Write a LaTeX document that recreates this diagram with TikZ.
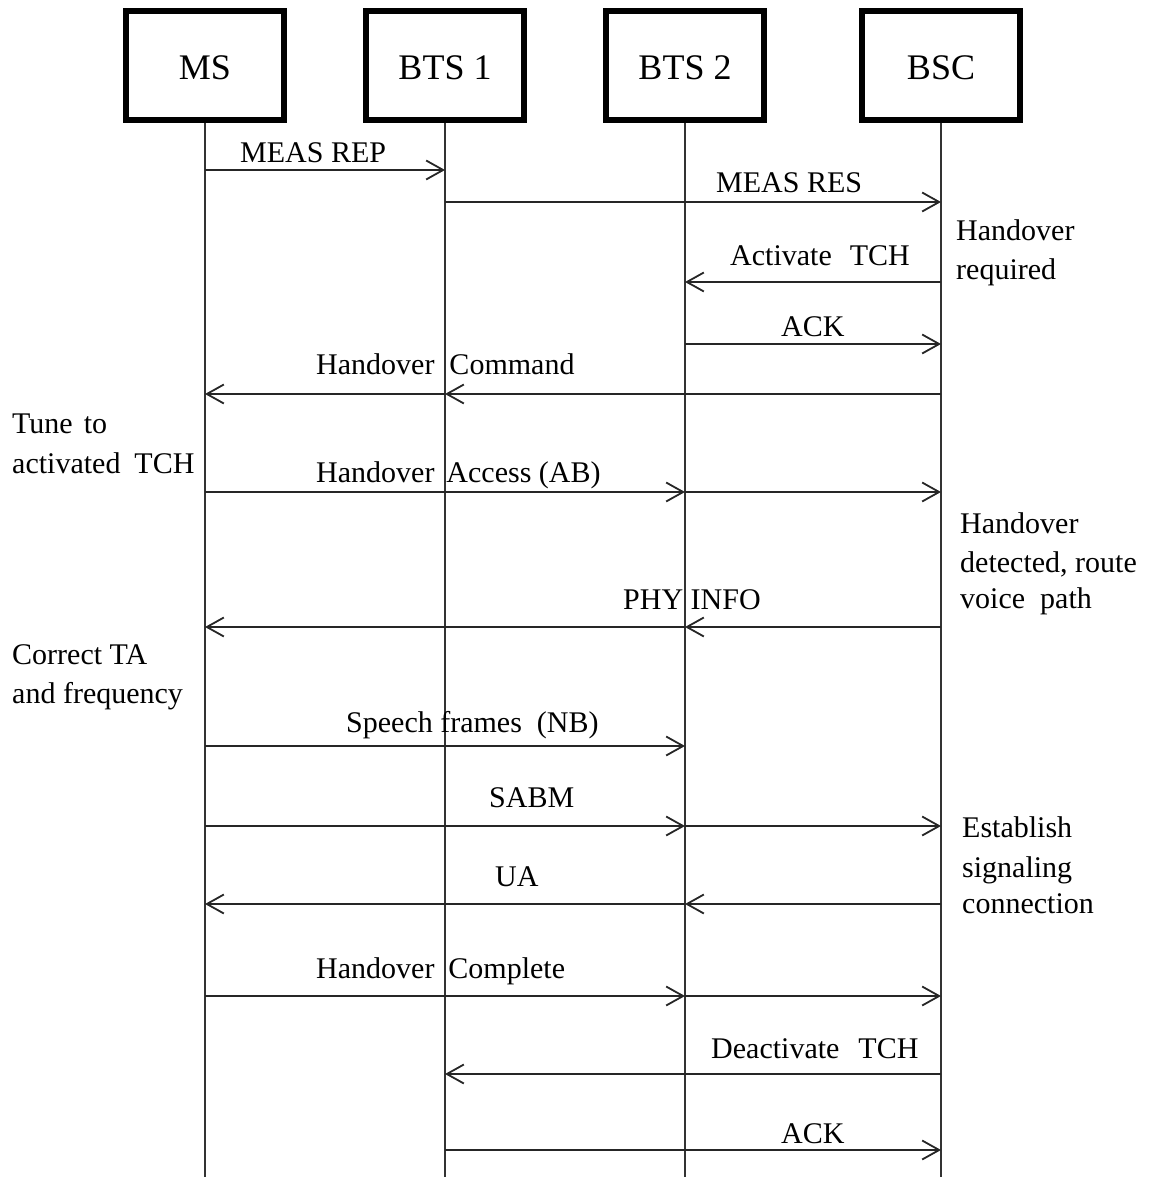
\documentclass[tikz,border=0pt]{standalone}
\usepackage{fontspec}
\setmainfont{Liberation Serif}
\usetikzlibrary{arrows.meta}
% explicit inter-word gap, in pt
\newcommand\wgap[1]{\hspace*{#1pt}}
\begin{document}
\begin{tikzpicture}[x=1pt,y=-1pt,
  entity/.style={draw=black, line width=5.5pt, minimum width=158pt,
    minimum height=109pt, inner sep=0pt, text height=29pt, text depth=0pt,
    font=\fontsize{36}{43}\selectfont},
  lifeline/.style={draw=black!80, line width=1.8pt},
  msg/.style={draw=black!85, line width=1.8pt,
    -{Straight Barb[length=17pt,width=19pt]}},
  lbl/.style={anchor=base west, inner sep=0pt, font=\fontsize{30}{36}\selectfont},
  note/.style={lbl}]

\useasboundingbox (0,0) rectangle (1153,1177);

% entities
\node[entity] (ms)   at (205,65.5) {MS};
\node[entity] (bts1) at (445,65.5) {BTS 1};
\node[entity] (bts2) at (685,65.5) {BTS 2};
\node[entity] (bsc)  at (941,65.5) {BSC};

% lifelines
\coordinate (bottom) at (0,1177);
\foreach \e in {ms,bts1,bts2,bsc}
  \draw[lifeline] (\e.south) -- (\e.south |- bottom);

% message rows
\coordinate (r1)  at (0,170);
\coordinate (r2)  at (0,202);
\coordinate (r3)  at (0,282);
\coordinate (r4)  at (0,344);
\coordinate (r5)  at (0,394);
\coordinate (r6)  at (0,492);
\coordinate (r7)  at (0,627);
\coordinate (r8)  at (0,746);
\coordinate (r9)  at (0,826);
\coordinate (r10) at (0,904);
\coordinate (r11) at (0,996);
\coordinate (r12) at (0,1074);
\coordinate (r13) at (0,1150);

% messages
\draw[msg] (ms |- r1) -- (bts1 |- r1);
\draw[msg] (bts1 |- r2) -- (bsc |- r2);
\draw[msg] (bsc |- r3) -- (bts2 |- r3);
\draw[msg] (bts2 |- r4) -- (bsc |- r4);
\draw[msg] (bsc |- r5) -- (bts1 |- r5);
\draw[msg] (bts1 |- r5) -- (ms |- r5);
\draw[msg] (ms |- r6) -- (bts2 |- r6);
\draw[msg] (bts2 |- r6) -- (bsc |- r6);
\draw[msg] (bsc |- r7) -- (bts2 |- r7);
\draw[msg] (bts2 |- r7) -- (ms |- r7);
\draw[msg] (ms |- r8) -- (bts2 |- r8);
\draw[msg] (ms |- r9) -- (bts2 |- r9);
\draw[msg] (bts2 |- r9) -- (bsc |- r9);
\draw[msg] (bsc |- r10) -- (bts2 |- r10);
\draw[msg] (bts2 |- r10) -- (ms |- r10);
\draw[msg] (ms |- r11) -- (bts2 |- r11);
\draw[msg] (bts2 |- r11) -- (bsc |- r11);
\draw[msg] (bsc |- r12) -- (bts1 |- r12);
\draw[msg] (bts1 |- r13) -- (bsc |- r13);

% message labels
\node[lbl] (l1)  at (240,163)  {MEAS REP};
\node[lbl] (l2)  at (716,193)  {MEAS RES};
\node[lbl] (l3)  at (730,265)  {Activate\wgap{18}TCH};
\node[lbl] (l4)  at (781,336)  {ACK};
\node[lbl] (l5)  at (316,374)  {Handover\wgap{15}Command};
\node[lbl] (l6)  at (316,482)  {Handover\wgap{12}Access (AB)};
\node[lbl] (l7)  at (623,609)  {PHY INFO};
\node[lbl] (l8)  at (346,732)  {Speech frames\wgap{15}(NB)};
\node[lbl] (l9)  at (489,807)  {SABM};
\node[lbl] (l10) at (495,886)  {UA};
\node[lbl] (l11) at (316,978)  {Handover\wgap{14}Complete};
\node[lbl] (l12) at (711,1058) {Deactivate\wgap{19}TCH};
\node[lbl] (l13) at (781,1143) {ACK};

% side notes
\node[note] (n1a) at (956,240)  {Handover};
\node[note] (n1b) at (956,279)  {required};
\node[note] (n2a) at (12,433)   {Tune\wgap{11}to};
\node[note] (n2b) at (12,473)   {activated\wgap{14}TCH};
\node[note] (n3a) at (960,533)  {Handover};
\node[note] (n3b) at (960,572)  {detected, route};
\node[note] (n3c) at (960,608)  {voice\wgap{15}path};
\node[note] (n4a) at (12,664)   {Correct TA};
\node[note] (n4b) at (12,703)   {and frequency};
\node[note] (n5a) at (962,837)  {Establish};
\node[note] (n5b) at (962,877)  {signaling};
\node[note] (n5c) at (962,913)  {connection};
\end{tikzpicture}
\end{document}
